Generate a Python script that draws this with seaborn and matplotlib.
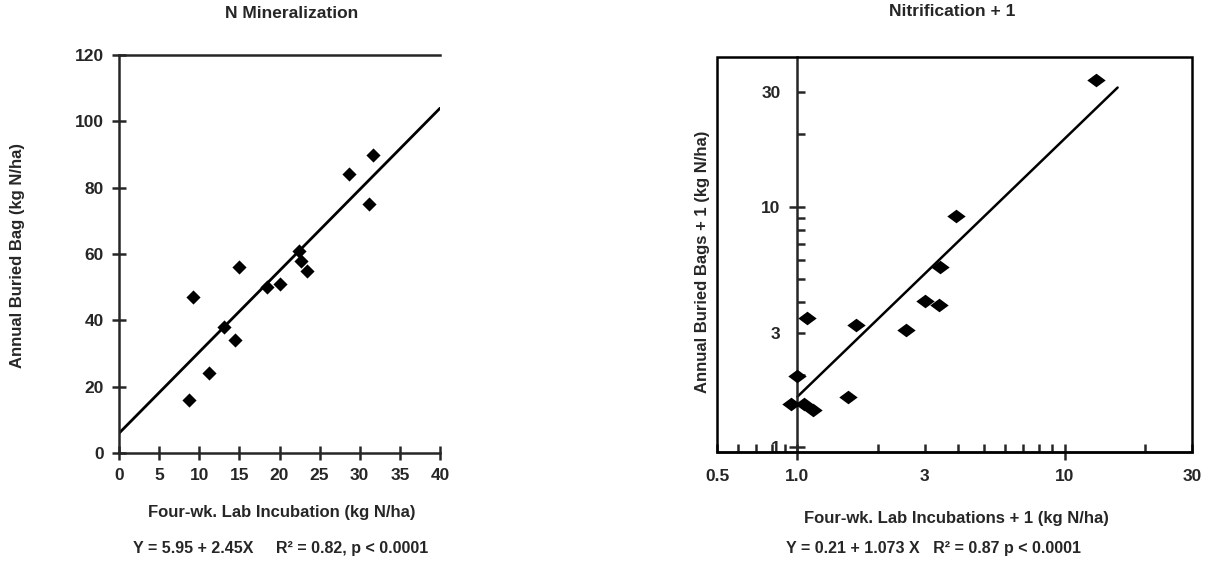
import numpy as np
import pandas as pd
import matplotlib
matplotlib.use("Agg")
import matplotlib.pyplot as plt
from matplotlib.patches import Rectangle
from matplotlib.ticker import FixedLocator, FixedFormatter
import seaborn as sns

# ---------------- data ----------------
# Left panel: N mineralization
min_lab = [8.7, 9.2, 11.2, 13.1, 14.5, 15.0, 18.4, 20.1, 22.4, 22.7, 23.4, 28.7, 31.2, 31.6]
min_bag = [16, 47, 24, 38, 34, 56, 50, 51, 61, 58, 55, 84, 75, 90]
min_fit_intercept = 5.95
min_fit_slope = 2.45
min_fit_range = [0, 40]

# Right panel: Nitrification + 1 (log-log)
nit_lab = [13.1, 3.94, 3.41, 3.0, 3.39, 2.55, 1.66, 1.09, 1.0, 1.55, 0.95, 1.06, 1.14]
nit_bag = [33.7, 9.2, 5.6, 4.05, 3.9, 3.07, 3.22, 3.45, 1.98, 1.61, 1.51, 1.51, 1.43]
nit_fit_intercept = 0.21
nit_fit_slope = 1.073
nit_fit_range = [1.0, 15.8]

left_xticks = [0, 5, 10, 15, 20, 25, 30, 35, 40]
left_yticks = [0, 20, 40, 60, 80, 100, 120]
right_x_labels = {0.5: "0.5", 1.0: "1.0", 3: "3", 10: "10", 30: "30"}
right_y_labels = {1: "1", 3: "3", 10: "10", 30: "30"}

titles = ["N Mineralization", "Nitrification + 1"]
xlabels = ["Four-wk. Lab Incubation (kg N/ha)", "Four-wk. Lab Incubations + 1 (kg N/ha)"]
ylabels = ["Annual Buried Bag (kg N/ha)", "Annual Buried Bags + 1 (kg N/ha)"]
equations = ["Y = 5.95 + 2.45X     R² = 0.82, p < 0.0001",
             "Y = 0.21 + 1.073 X   R² = 0.87 p < 0.0001"]

# ---------------- style ----------------
sns.set_style("ticks")
plt.rcParams["font.family"] = ["Liberation Sans", "DejaVu Sans"]
plt.rcParams["font.weight"] = "bold"
plt.rcParams["axes.labelweight"] = "bold"
plt.rcParams["axes.linewidth"] = 1.8

W, H = 1218, 562
fig = plt.figure(figsize=(W / 100, H / 100), dpi=100)


def fx(px):
    return px / W


def fy(py):
    return 1 - py / H


LABEL_FS = 12
TICK_FS = 12.5

# axes placement (pixels)
axL = fig.add_axes([fx(119), fy(453), fx(440) - fx(119), fy(55) - fy(453)])
axR = fig.add_axes([fx(717), fy(452), fx(1192) - fx(717), fy(57) - fy(452)])

# ---------------- left panel ----------------
dfL = pd.DataFrame({"lab": min_lab, "bag": min_bag})
sns.scatterplot(data=dfL, x="lab", y="bag", ax=axL, marker="D", s=52,
                color="black", edgecolor="black", linewidth=0, zorder=3)
fitL = pd.DataFrame({"x": min_fit_range})
fitL["y"] = min_fit_intercept + min_fit_slope * fitL["x"]
sns.lineplot(data=fitL, x="x", y="y", ax=axL, color="black", linewidth=2.0)
axL.set_xlim(0, 40)
axL.set_ylim(0, 120)
axL.set_xticks(left_xticks)
axL.set_yticks(left_yticks)
axL.tick_params(axis="both", direction="inout", length=10, width=1.8,
                labelsize=TICK_FS, pad=6)
for lab in axL.get_xticklabels() + axL.get_yticklabels():
    lab.set_fontweight("bold")
axL.spines["right"].set_visible(False)
axL.set_xlabel(xlabels[0], fontsize=LABEL_FS, fontweight="bold")
axL.set_ylabel(ylabels[0], fontsize=LABEL_FS, fontweight="bold")
axL.xaxis.set_label_coords(fx(282), fy(512), transform=fig.transFigure)
axL.yaxis.set_label_coords(fx(18), fy(255), transform=fig.transFigure)
axL.xaxis.label.set_va("center")
axL.yaxis.label.set_va("center")

# ---------------- right panel ----------------
dfR = pd.DataFrame({"lab": nit_lab, "bag": nit_bag})
wide_diamond = [(-1, 0), (0, 0.74), (1, 0), (0, -0.74), (-1, 0)]
sns.scatterplot(data=dfR, x="lab", y="bag", ax=axR, marker=wide_diamond, s=175,
                color="black", edgecolor="black", linewidth=0, zorder=3)
fitR = pd.DataFrame({"x": np.geomspace(nit_fit_range[0], nit_fit_range[1], 50)})
fitR["y"] = 10 ** (nit_fit_intercept + nit_fit_slope * np.log10(fitR["x"]))
sns.lineplot(data=fitR, x="x", y="y", ax=axR, color="black", linewidth=1.8)
axR.set_xscale("log")
axR.set_yscale("log")
axR.set_xlim(0.5, 30)
axR.set_ylim(0.955, 42)

# y axis drawn at x = 1.0, full box as frame
axR.spines["left"].set_position(("data", 1.0))
axR.spines["right"].set_visible(False)
axR.spines["top"].set_visible(False)
axR.add_patch(Rectangle((0, 0), 1, 1, transform=axR.transAxes, fill=False,
                        linewidth=1.8, edgecolor="black", clip_on=False, zorder=4))

# x ticks
axR.xaxis.set_major_locator(FixedLocator([1.0, 10]))
axR.xaxis.set_major_formatter(FixedFormatter(["1.0", "10"]))
x_minor = [0.5, 0.6, 0.7, 0.8, 0.9, 2, 3, 4, 5, 6, 7, 8, 9, 20, 30]
axR.xaxis.set_minor_locator(FixedLocator(x_minor))
axR.xaxis.set_minor_formatter(FixedFormatter([right_x_labels.get(v, "") for v in x_minor]))
# y ticks
axR.yaxis.set_major_locator(FixedLocator([1, 10]))
axR.yaxis.set_major_formatter(FixedFormatter(["1", "10"]))
y_minor = [2, 3, 4, 5, 6, 7, 8, 9, 20, 30]
axR.yaxis.set_minor_locator(FixedLocator(y_minor))
axR.yaxis.set_minor_formatter(FixedFormatter([right_y_labels.get(v, "") for v in y_minor]))

axR.tick_params(axis="both", which="major", direction="inout", length=12, width=1.8,
                labelsize=TICK_FS, pad=6)
axR.tick_params(axis="both", which="minor", direction="in", length=6, width=1.8,
                labelsize=TICK_FS, pad=12)
for lab in (axR.get_xticklabels() + axR.get_yticklabels()
            + axR.get_xticklabels(minor=True) + axR.get_yticklabels(minor=True)):
    lab.set_fontweight("bold")

axR.set_xlabel(xlabels[1], fontsize=LABEL_FS, fontweight="bold")
axR.set_ylabel(ylabels[1], fontsize=LABEL_FS, fontweight="bold")
axR.xaxis.set_label_coords(fx(956), fy(518), transform=fig.transFigure)
axR.yaxis.set_label_coords(fx(703), fy(262), transform=fig.transFigure)
axR.xaxis.label.set_va("center")
axR.yaxis.label.set_va("center")

# ---------------- titles and equations ----------------
fig.text(fx(292), fy(14), titles[0], ha="center", va="center", fontsize=12.5, fontweight="bold")
fig.text(fx(952), fy(12), titles[1], ha="center", va="center", fontsize=12.5, fontweight="bold")
fig.text(fx(281), fy(548), equations[0], ha="center", va="center", fontsize=11.5, fontweight="bold")
fig.text(fx(933), fy(549), equations[1], ha="center", va="center", fontsize=11.5, fontweight="bold")

fig.savefig("out.png", dpi=100)
